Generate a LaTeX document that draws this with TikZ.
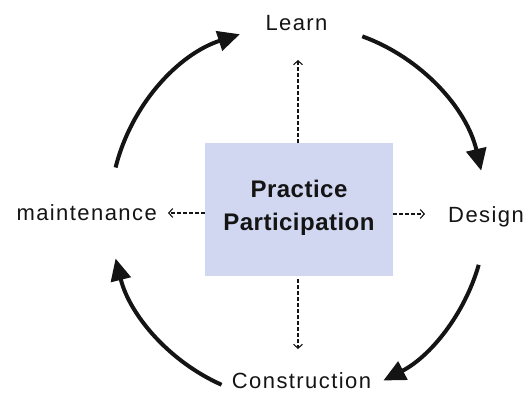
\documentclass[tikz,border=0pt]{standalone}
\usepackage{fontspec}
\setmainfont{Liberation Sans}
\newfontfamily\labfont[LetterSpace=6.5]{Liberation Sans}
\newfontfamily\boxfont[LetterSpace=2]{Liberation Sans}
\usetikzlibrary{arrows.meta,calc}
\definecolor{boxfill}{RGB}{209,214,241}
\definecolor{ink}{RGB}{20,20,20}
\tikzset{
  lab/.style={inner sep=0pt, text=ink, font=\labfont\fontsize{22}{26}\selectfont},
  boldlab/.style={inner sep=0pt, text=ink, font=\boxfont\bfseries\fontsize{24}{30}\selectfont},
  centerbox/.style={fill=boxfill, draw=none, minimum width=188pt, minimum height=133pt, inner sep=0pt},
  cyc/.style={draw=ink, line width=4pt, -{Triangle[length=22pt,width=20pt]}},
  dsh/.style={draw=ink, line width=1.1pt, dash pattern=on 3.5pt off 2.5pt, -{Straight Barb[length=4pt,width=9pt]}}
}
\begin{document}
\begin{tikzpicture}[x=1pt,y=1pt]
\useasboundingbox (0,0) rectangle (529,394);
% centre box
\node[centerbox] (pp) at (299,184.5) {};
\node[boldlab, anchor=base] (t1) at (299,197) {Practice};
\node[boldlab, anchor=base] (t2) at (299,164) {Participation};
% labels
\node[lab, anchor=base] (learn) at (296.5,363) {Learn};
\node[lab, anchor=base west] (design) at (448,172) {Design};
\node[lab, anchor=base east] (maint) at (157,174) {maintenance};
\node[lab, anchor=base] (constr) at (301.5,5.5) {Construction};
% dashed arrows
\coordinate (up) at (298,334);
\coordinate (dn) at (298,45);
\coordinate (rt) at (425,180);
\coordinate (lf) at (168,181);
\draw[dsh] (pp.north -| up) -- (up);
\draw[dsh, shorten <=3pt] (pp.south -| dn) -- (dn);
\draw[dsh] (pp.east |- rt) -- (rt);
\draw[dsh] (pp.west |- lf) -- (lf);
% cycle arcs
\coordinate (c) at (298,181);
\coordinate (a1) at ($(c)+(166:188)$);
\coordinate (a2) at ($(c)+(70:188)$);
\coordinate (a3) at ($(c)+(-16:188)$);
\coordinate (a4) at ($(c)+(246:188)$);
\draw[cyc] (a1) arc[start angle=166, end angle=108, radius=188pt];
\draw[cyc] (a2) arc[start angle=70, end angle=13, radius=188pt];
\draw[cyc] (a3) arc[start angle=-16, end angle=-63, radius=188pt];
\draw[cyc] (a4) arc[start angle=246, end angle=194, radius=188pt];
\end{tikzpicture}
\end{document}
